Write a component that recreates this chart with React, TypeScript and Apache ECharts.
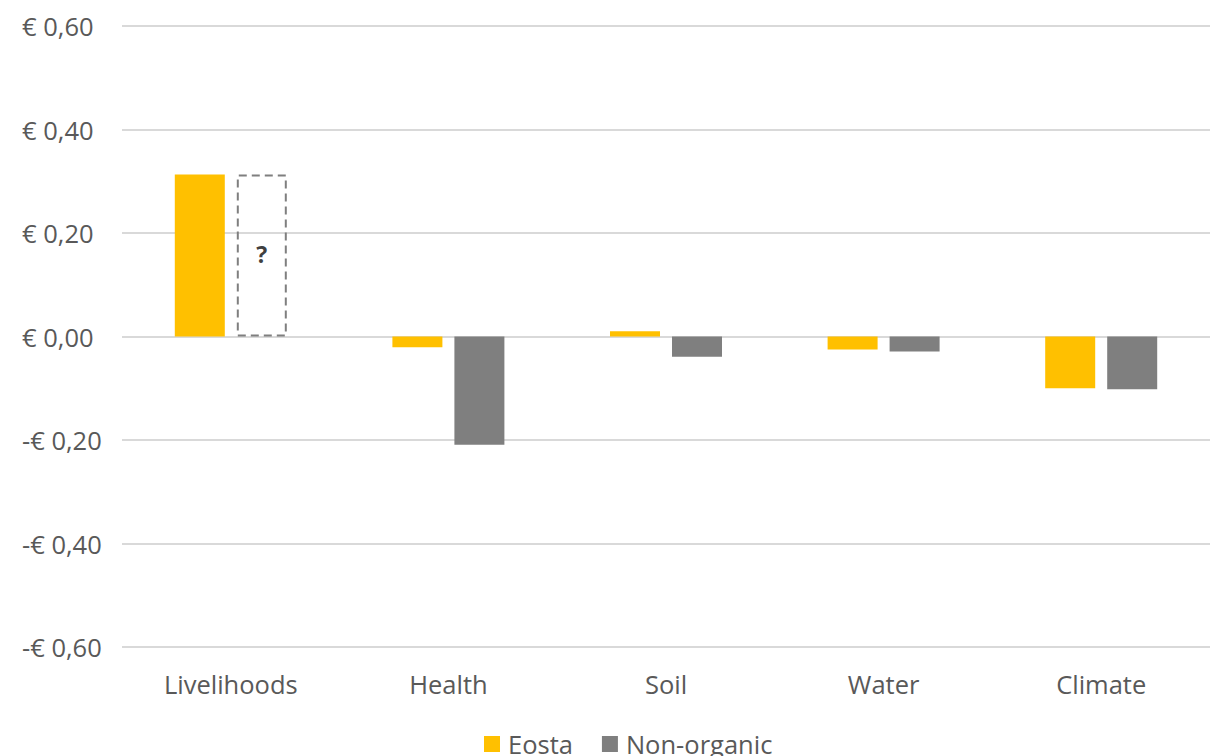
import React, { useEffect, useRef } from "react";
import * as echarts from "echarts";

const categories = ["Livelihoods", "Health", "Soil", "Water", "Climate"];
const eostaValues = [0.313, -0.021, 0.01, -0.025, -0.1];
const nonOrganicValues = [0.313, -0.209, -0.039, -0.029, -0.102];
const nonOrganicUnknown = [true, false, false, false, false];
const yTicks = [-0.6, -0.4, -0.2, 0, 0.2, 0.4, 0.6];

const FONT = "Open Sans";
const TEXT = "#595959";
const FS = 25.5;

function fmt(v: number): string {
  const s = Math.abs(v).toFixed(2).replace(".", ",");
  return (v < -1e-9 ? "-€ " : "€ ") + s;
}

export default function App() {
  const ref = useRef<HTMLDivElement>(null);
  useEffect(() => {
    if (!ref.current) return;
    const chart = echarts.init(ref.current, null, { renderer: "svg" });
    chart.setOption({
      animation: false,
      backgroundColor: "#ffffff",
      textStyle: { fontFamily: FONT },
      grid: { left: 122, right: -9, top: 26, bottom: 109, containLabel: false },
      legend: {
        bottom: -1,
        left: 484,
        padding: 0,
        itemWidth: 16,
        itemHeight: 16,
        itemGap: 29,
        icon: "rect",
        textStyle: { fontFamily: FONT, fontSize: FS, color: TEXT, padding: [0, 0, 0, 3] },
        data: ["Eosta", "Non-organic"],
      },
      xAxis: {
        type: "category",
        data: categories,
        axisLine: { show: false },
        axisTick: { show: false },
        axisLabel: { fontFamily: FONT, fontSize: FS, color: TEXT, margin: 24 },
      },
      yAxis: {
        type: "value",
        min: yTicks[0],
        max: yTicks[yTicks.length - 1],
        interval: 0.2,
        axisLine: { show: false },
        axisTick: { show: false },
        splitLine: { lineStyle: { color: "#d9d9d9", width: 2 } },
        axisLabel: {
          fontFamily: FONT,
          fontSize: FS,
          color: TEXT,
          align: "left",
          margin: 100,
          formatter: (v: number) => fmt(v),
        },
      },
      series: [
        {
          name: "Eosta",
          type: "bar",
          barWidth: 50,
          barGap: "24%",
          itemStyle: { color: "#ffc000" },
          data: eostaValues,
        },
        {
          name: "Non-organic",
          type: "bar",
          barWidth: 50,
          itemStyle: { color: "#7f7f7f" },
          data: nonOrganicValues.map((v, i) =>
            nonOrganicUnknown[i]
              ? {
                  value: v,
                  itemStyle: {
                    color: "rgba(255,255,255,0)",
                    borderColor: "#7f7f7f",
                    borderWidth: 2,
                    borderType: [8, 5],
                  },
                  label: {
                    show: true,
                    position: "inside",
                    formatter: "?",
                    fontFamily: FONT,
                    fontSize: 23,
                    fontWeight: "bold",
                    color: "#404040",
                    offset: [0, -2],
                  },
                }
              : v
          ),
        },
      ],
    });
    return () => chart.dispose();
  }, []);
  return (
    <div
      ref={ref}
      style={{ position: "absolute", left: 0, top: 0, width: 1210, height: 756 }}
    />
  );
}
